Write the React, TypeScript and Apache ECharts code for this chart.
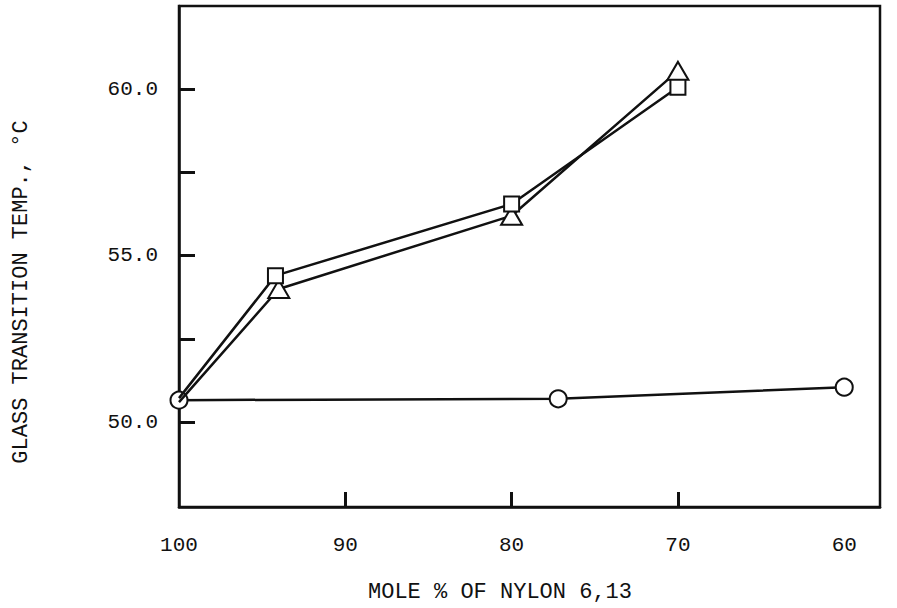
import React, { useEffect, useRef } from "react";
import * as echarts from "echarts";

const xTickLabels = [100, 90, 80, 70, 60];
const xTickMarks = [90, 80, 70];
const yTickLabels = [50, 55, 60];
const yTickMarks = [50, 52.5, 55, 57.5, 60];

const squareX = [100, 94.2, 80, 70];
const squareY = [50.72, 54.4, 56.55, 60.06];
const triangleX = [100, 94, 80, 70];
const triangleY = [50.6, 54.0, 56.2, 60.55];
const circleX = [100, 77.2, 60];
const circleY = [50.66, 50.7, 51.05];

const xTitle = "MOLE % OF NYLON 6,13";
const yTitle = "GLASS TRANSITION TEMP., °C";

const FONT = "'Liberation Mono', 'DejaVu Sans Mono', monospace";

function pts(xs: number[], ys: number[], skipFirst: boolean) {
  return xs.map((x, i) =>
    skipFirst && i === 0 ? { value: [x, ys[i]], symbol: "none" } : { value: [x, ys[i]] }
  );
}

export default function App() {
  const ref = useRef<HTMLDivElement>(null);
  useEffect(() => {
    if (!ref.current) return;
    const chart = echarts.init(ref.current, null, { renderer: "svg" });
    const markerStyle = { color: "#fff", borderColor: "#111", borderWidth: 2 };
    chart.setOption({
      animation: false,
      backgroundColor: "#fff",
      grid: {
        left: 179,
        right: 17,
        top: 6,
        bottom: 101,
        show: true,
        borderColor: "#111",
        borderWidth: 2.5,
        backgroundColor: "transparent",
      },
      xAxis: {
        type: "value",
        inverse: true,
        min: 57.85,
        max: 100,
        splitLine: { show: false },
        axisLine: { show: true, lineStyle: { color: "#111", width: 2.5 } },
        axisTick: {
          show: true,
          inside: true,
          length: 15,
          customValues: xTickMarks,
          lineStyle: { color: "#111", width: 3 },
        },
        axisLabel: {
          customValues: xTickLabels,
          margin: 28,
          color: "#111",
          fontFamily: FONT,
          fontSize: 21,
          formatter: (v: number) => String(v),
        },
      },
      yAxis: {
        type: "value",
        min: 47.45,
        max: 62.5,
        splitLine: { show: false },
        axisLine: { show: true, lineStyle: { color: "#111", width: 2.5 } },
        axisTick: {
          show: true,
          inside: true,
          length: 16,
          customValues: yTickMarks,
          lineStyle: { color: "#111", width: 3 },
        },
        axisLabel: {
          customValues: yTickLabels,
          margin: 21,
          color: "#111",
          fontFamily: FONT,
          fontSize: 21,
          formatter: (v: number) => v.toFixed(1),
        },
      },
      graphic: [
        {
          type: "text",
          x: 500,
          y: 592,
          style: {
            text: xTitle,
            fontFamily: FONT,
            fontSize: 22,
            fill: "#111",
            align: "center",
            verticalAlign: "middle",
          },
        },
        {
          type: "text",
          x: 21,
          y: 292,
          rotation: Math.PI / 2,
          style: {
            text: yTitle,
            fontFamily: FONT,
            fontSize: 22,
            fill: "#111",
            align: "center",
            verticalAlign: "middle",
          },
        },
      ],
      series: [
        {
          type: "line",
          name: "circle",
          data: pts(circleX, circleY, false),
          symbol: "circle",
          symbolSize: 17,
          showAllSymbol: true,
          itemStyle: markerStyle,
          lineStyle: { color: "#111", width: 2.5 },
          z: 2,
        },
        {
          type: "line",
          name: "triangle",
          data: pts(triangleX, triangleY, true),
          symbol: "triangle",
          symbolSize: [21, 18],
          showAllSymbol: true,
          itemStyle: markerStyle,
          lineStyle: { color: "#111", width: 2.5 },
          z: 3,
        },
        {
          type: "line",
          name: "square",
          data: pts(squareX, squareY, true),
          symbol: "rect",
          symbolSize: 15,
          showAllSymbol: true,
          itemStyle: markerStyle,
          lineStyle: { color: "#111", width: 2.5 },
          z: 4,
        },
      ],
    });
    return () => chart.dispose();
  }, []);
  return (
    <div
      ref={ref}
      style={{ position: "absolute", left: 0, top: 0, width: 897, height: 608 }}
    />
  );
}
